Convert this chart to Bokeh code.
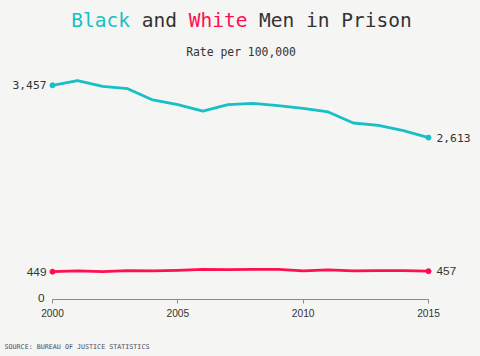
from bokeh.plotting import figure
from bokeh.models import Range1d, Label, FixedTicker, LinearAxis
from bokeh.embed import file_html
from bokeh.resources import INLINE
from bokeh.core.properties import value
from bokeh.core.templates import FILE

years = list(range(2000, 2016))
black = [3457, 3532, 3441, 3403, 3220, 3145, 3042, 3145, 3167, 3129, 3086, 3027, 2849, 2811, 2726, 2613]
white = [449, 462, 450, 465, 463, 471, 487, 481, 487, 487, 463, 478, 463, 465, 465, 457]
year_ticks = [2000, 2005, 2010, 2015]

TEAL = "#17BFC7"
RED = "#FF0E50"
DARK = "#333333"
BG = "#F5F5F3"
MONO = "DejaVu Sans Mono"
SANS = "Liberation Sans"

W, H = 480, 356
AXIS_Y = 299          # pixel row of the zero line
UPP = 16.14           # data units per pixel
p = figure(width=W, height=H, min_border=0,
           output_backend="svg", toolbar_location=None,
           x_range=Range1d(1997.926, 2017.074),
           y_range=Range1d(-(H - AXIS_Y) * UPP, AXIS_Y * UPP),
           x_axis_type=None, y_axis_type=None)
p.background_fill_color = BG
p.border_fill_color = BG
p.outline_line_color = None
p.grid.visible = False

xaxis = LinearAxis(ticker=FixedTicker(ticks=year_ticks), bounds=(2000, 2015), fixed_location=0)
xaxis.axis_line_color = "#8a8a8a"
xaxis.major_tick_line_color = "#8a8a8a"
xaxis.major_tick_in = 0
xaxis.major_tick_out = 4
xaxis.minor_tick_line_color = None
xaxis.major_label_text_font = SANS
xaxis.major_label_text_font_size = "10.2px"
xaxis.major_label_text_color = DARK
xaxis.major_label_standoff = 5
p.add_layout(xaxis, "below")

p.line(years, black, line_color=TEAL, line_width=2.8, line_join="round")
p.line(years, white, line_color=RED, line_width=2.8, line_join="round")
p.scatter([years[0], years[-1]], [black[0], black[-1]], size=5, color=TEAL)
p.scatter([years[0], years[-1]], [white[0], white[-1]], size=5, color=RED)

p.text([years[0]], [black[0]], text=[f"{black[0]:,}"], x_offset=-6, text_align="right",
       text_baseline="middle", text_font=value(MONO), text_font_size="11.3px", text_color=DARK)
p.text([years[-1]], [black[-1]], text=[f"{black[-1]:,}"], x_offset=8, text_align="left",
       text_baseline="middle", text_font=value(MONO), text_font_size="11.3px", text_color=DARK)
p.text([years[0]], [white[0]], text=[f"{white[0]:,}"], x_offset=-6, text_align="right",
       text_baseline="middle", text_font=value(SANS), text_font_size="11.8px", text_color=DARK)
p.text([years[-1]], [white[-1]], text=[f"{white[-1]:,}"], x_offset=8, text_align="left",
       text_baseline="middle", text_font=value(SANS), text_font_size="11.8px", text_color=DARK)
p.text([years[0]], [0], text=["0"], x_offset=-8, y_offset=-2, text_align="right",
       text_baseline="middle", text_font=value(SANS), text_font_size="11.8px", text_color=DARK)

# title in pieces (monospace)
TFS = 19.5
cw = 0.602 * TFS
parts = [("Black", TEAL), (" and ", DARK), ("White", RED), (" Men in Prison", DARK)]
total = sum(len(s) for s, _ in parts)
x0 = 241 - total * cw / 2
pos = 0
for s, c in parts:
    lead = len(s) - len(s.lstrip(" "))
    p.add_layout(Label(x=x0 + (pos + lead) * cw, y=H - 19.5, x_units="screen", y_units="screen",
                       text=s.strip(" "), text_font=MONO, text_font_size=f"{TFS}px", text_color=c,
                       text_align="left", text_baseline="alphabetic"))
    pos += len(s)

p.add_layout(Label(x=240.5, y=H - 51.7, x_units="screen", y_units="screen",
                   text="Rate per 100,000", text_font=MONO, text_font_size="11.4px",
                   text_color=DARK, text_align="center", text_baseline="alphabetic"))

p.add_layout(Label(x=4, y=H - 346.7, x_units="screen", y_units="screen",
                   text="SOURCE: BUREAU OF JUSTICE STATISTICS", text_font=MONO,
                   text_font_size="6.7px", text_color="#4B4857", text_align="left",
                   text_baseline="alphabetic"))

tmpl = FILE.environment.from_string(
    '{% extends "file.html" %}{% block preamble %}<style>body{background:#F5F5F3}</style>{% endblock %}')

open("out.html", "w").write(file_html(p, INLINE, template=tmpl))
